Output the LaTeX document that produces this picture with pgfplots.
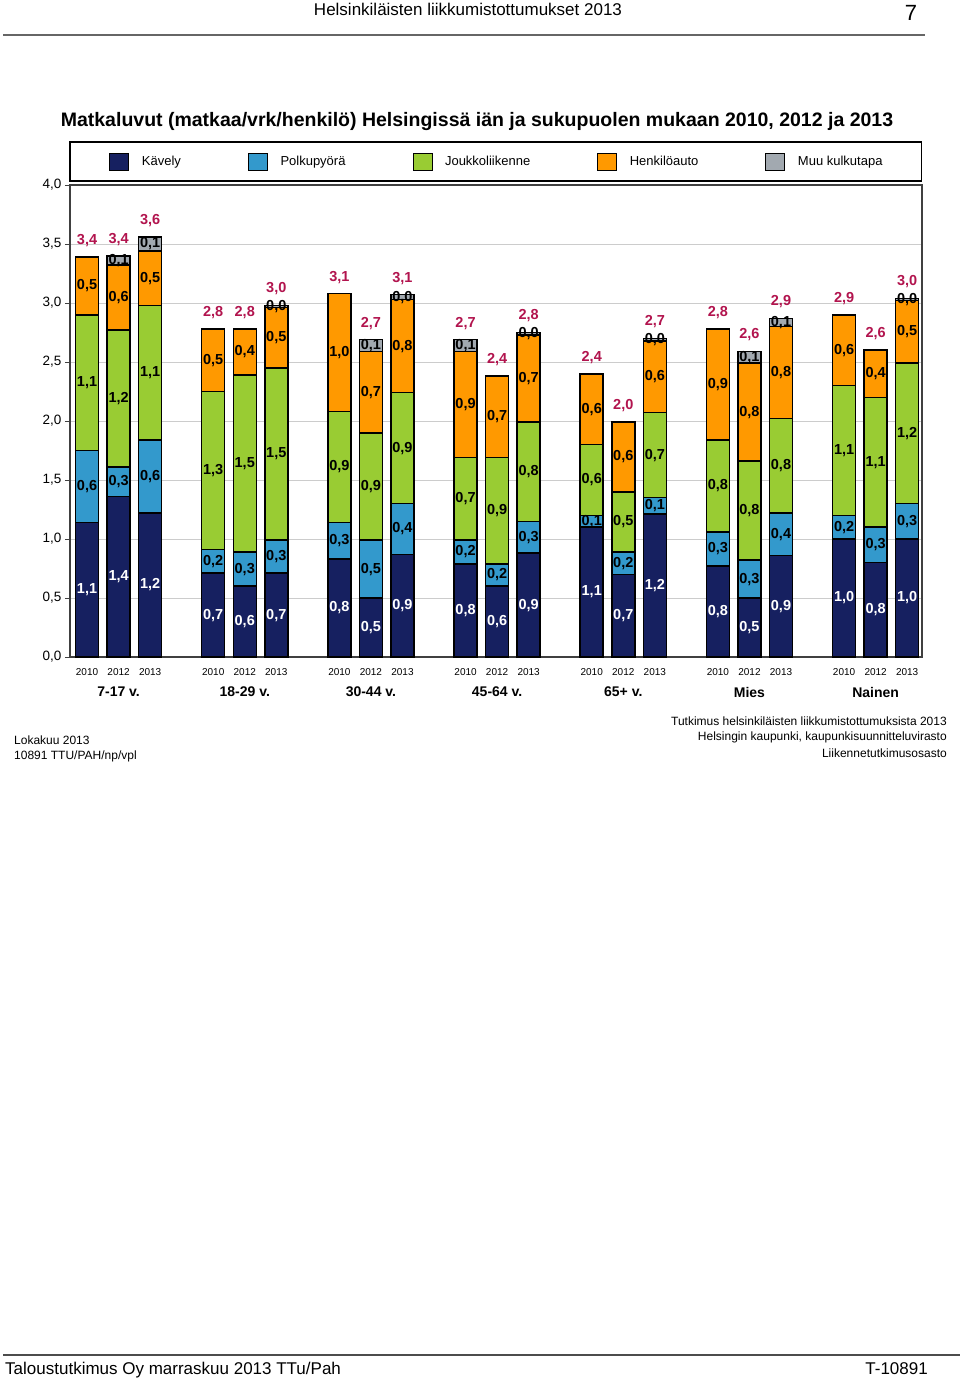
\documentclass[border=0pt]{standalone}
\usepackage{fontspec}
\setmainfont{Liberation Sans}
\usepackage{pgfplots}
\usepackage{pgfplotstable}
\pgfplotsset{compat=1.18}
\definecolor{cK}{RGB}{22,32,96}
\definecolor{cP}{RGB}{51,153,204}
\definecolor{cJ}{RGB}{153,204,51}
\definecolor{cH}{RGB}{255,153,0}
\definecolor{cM}{RGB}{162,169,176}
\definecolor{cT}{RGB}{178,20,78}
\newcommand{\fs}[1]{\fontsize{#1}{#1}\selectfont}

\pgfplotstableread{
x y l
0 1.14 1,1
1 1.36 1,4
2 1.22 1,2
4 0.71 0,7
5 0.60 0,6
6 0.71 0,7
8 0.83 0,8
9 0.50 0,5
10 0.87 0,9
12 0.79 0,8
13 0.60 0,6
14 0.88 0,9
16 1.10 1,1
17 0.70 0,7
18 1.21 1,2
20 0.77 0,8
21 0.50 0,5
22 0.86 0,9
24 1.00 1,0
25 0.80 0,8
26 1.00 1,0
}\tK
\pgfplotstableread{
x y l
0 0.61 0,6
1 0.25 0,3
2 0.62 0,6
4 0.20 0,2
5 0.29 0,3
6 0.28 0,3
8 0.31 0,3
9 0.49 0,5
10 0.43 0,4
12 0.20 0,2
13 0.19 0,2
14 0.27 0,3
16 0.10 0,1
17 0.19 0,2
18 0.14 0,1
20 0.29 0,3
21 0.32 0,3
22 0.36 0,4
24 0.20 0,2
25 0.30 0,3
26 0.30 0,3
}\tP
\pgfplotstableread{
x y l
0 1.15 1,1
1 1.16 1,2
2 1.14 1,1
4 1.34 1,3
5 1.50 1,5
6 1.46 1,5
8 0.94 0,9
9 0.91 0,9
10 0.94 0,9
12 0.70 0,7
13 0.90 0,9
14 0.84 0,8
16 0.60 0,6
17 0.51 0,5
18 0.72 0,7
20 0.78 0,8
21 0.84 0,8
22 0.80 0,8
24 1.10 1,1
25 1.10 1,1
26 1.19 1,2
}\tJ
\pgfplotstableread{
x y l
0 0.49 0,5
1 0.55 0,6
2 0.46 0,5
4 0.53 0,5
5 0.39 0,4
6 0.51 0,5
8 1.00 1,0
9 0.69 0,7
10 0.79 0,8
12 0.90 0,9
13 0.69 0,7
14 0.74 0,7
16 0.60 0,6
17 0.59 0,6
18 0.61 0,6
20 0.94 0,9
21 0.83 0,8
22 0.78 0,8
24 0.60 0,6
25 0.40 0,4
26 0.53 0,5
}\tH
\pgfplotstableread{
x y l
0 0 {}
1 0.08 0,1
2 0.12 0,1
4 0 {}
5 0 {}
6 0.02 0,0
8 0 {}
9 0.10 0,1
10 0.04 0,0
12 0.10 0,1
13 0 {}
14 0.02 0,0
16 0 {}
17 0 {}
18 0.02 0,0
20 0 {}
21 0.10 0,1
22 0.07 0,1
24 0 {}
25 0 {}
26 0.02 0,0
}\tM
\pgfplotstableread{
x y l
0 0.001 3,4
1 0.001 3,4
2 0.001 3,6
4 0.001 2,8
5 0.001 2,8
6 0.001 3,0
8 0.001 3,1
9 0.001 2,7
10 0.001 3,1
12 0.001 2,7
13 0.001 2,4
14 0.001 2,8
16 0.001 2,4
17 0.001 2,0
18 0.001 2,7
20 0.001 2,8
21 0.001 2,6
22 0.001 2,9
24 0.001 2,9
25 0.001 2,6
26 0.001 3,0
}\tT

\pgfplotsset{
  seglab/.style={
    nodes near coords,
    point meta=explicit symbolic,
    every node near coord/.style={
      anchor=center, inner sep=0pt, text=#1,
      font=\bfseries\fs{14.5}},
  },
}

\begin{document}
\begin{tikzpicture}
\fill[white] (0pt,0pt) rectangle (960pt,-1379pt);
% header
\node[anchor=base, inner sep=0pt, font=\fs{17}] at (468pt,-15.5pt) {Helsinkiläisten liikkumistottumukset 2013};
\node[anchor=base, inner sep=0pt, font=\fs{22}] at (911pt,-20pt) {7};
\draw[black!60, line width=1.3pt] (3pt,-35pt) -- (925pt,-35pt);
% title
\node[anchor=base, inner sep=0pt, font=\bfseries\fs{19.5}] at (477pt,-126pt) {Matkaluvut (matkaa/vrk/henkilö) Helsingissä iän ja sukupuolen mukaan 2010, 2012 ja 2013};
% legend frame
\draw[black, line width=1.5pt] (70pt,-142pt) rectangle (921.5pt,-181pt);

\begin{axis}[
  at={(70pt,-657pt)}, anchor=south west,
  scale only axis, width=852pt, height=472pt,
  xmin=-0.54, xmax=26.47, ymin=0, ymax=4,
  ybar stacked, bar width=23pt,
  axis line style={black!75, line width=1.3pt},
  ymajorgrids, grid style={black!20, line width=0.8pt},
  tick align=outside, major tick length=5pt,
  ytick={0,0.5,1,1.5,2,2.5,3,3.5,4},
  ytick pos=left,
  ytick style={black!75, line width=1pt},
  yticklabel style={font=\fs{13.5}, /pgf/number format/.cd, fixed, fixed zerofill, precision=1, use comma, assume math mode=true},
  xtick={0,1,2,4,5,6,8,9,10,12,13,14,16,17,18,20,21,22,24,25,26},
  xticklabels={2010,2012,2013,2010,2012,2013,2010,2012,2013,2010,2012,2013,2010,2012,2013,2010,2012,2013,2010,2012,2013},
  xtick style={draw=none},
  xticklabel style={font=\fs{10}, inner sep=0pt, yshift=-6pt},
  extra x ticks={1,5,9,13,17,21,25},
  extra x tick labels={7-17 v.,18-29 v.,30-44 v.,45-64 v.,65+ v.,Mies,Nainen},
  extra x tick style={major tick length=0pt, xtick style={draw=none}, xticklabel style={font=\bfseries\fs{14}, inner sep=0pt, yshift=-24pt}},
  legend columns=5,
  legend style={at={(0.5,1)}, anchor=center, yshift=23pt, draw=none, fill=none,
    font=\fs{13}, nodes={inner sep=0pt},
    /tikz/every odd column/.append style={column sep=12.7pt},
    /tikz/every even column/.append style={column sep=67pt}},
  legend image code/.code={\draw[#1, draw=black, line width=0.8pt] (0pt,-8.7pt) rectangle (19pt,8.7pt);},
]
\addplot[fill=cK, draw=black, line width=1.5pt, seglab=white] table[x=x,y=y,meta=l]{\tK};
\addlegendentry{Kävely}
\addplot[fill=cP, draw=black, line width=1.5pt, seglab=black] table[x=x,y=y,meta=l]{\tP};
\addlegendentry{Polkupyörä}
\addplot[fill=cJ, draw=black, line width=1.5pt, seglab=black] table[x=x,y=y,meta=l]{\tJ};
\addlegendentry{Joukkoliikenne}
\addplot[fill=cH, draw=black, line width=1.5pt, seglab=black] table[x=x,y=y,meta=l]{\tH};
\addlegendentry{Henkilöauto}
\addplot[fill=cM, draw=black, line width=1.5pt, seglab=black] table[x=x,y=y,meta=l]{\tM};
\addlegendentry{Muu kulkutapa}
\addplot[draw=none, fill=none, nodes near coords, point meta=explicit symbolic,
  every node near coord/.style={anchor=base, inner sep=0pt, text=cT, font=\bfseries\fs{14.5}, yshift=12.5pt}]
  table[x=x,y=y,meta=l]{\tT};
\end{axis}

% notes
\node[anchor=west, inner sep=0pt, font=\fs{12}] at (14pt,-740pt) {Lokakuu 2013};
\node[anchor=west, inner sep=0pt, font=\fs{12}] at (14pt,-756pt) {10891 TTU/PAH/np/vpl};
\node[anchor=east, inner sep=0pt, font=\fs{12}] at (947pt,-721pt) {Tutkimus helsinkiläisten liikkumistottumuksista 2013};
\node[anchor=east, inner sep=0pt, font=\fs{12}] at (947pt,-737pt) {Helsingin kaupunki, kaupunkisuunnitteluvirasto};
\node[anchor=east, inner sep=0pt, font=\fs{12}] at (947pt,-753pt) {Liikennetutkimusosasto};
% footer
\draw[black!70, line width=2pt] (3pt,-1355pt) -- (960pt,-1355pt);
\node[anchor=base west, inner sep=0pt, font=\fs{17}] at (5pt,-1374pt) {Taloustutkimus Oy marraskuu 2013 TTu/Pah};
\node[anchor=base east, inner sep=0pt, font=\fs{17}] at (928pt,-1374pt) {T-10891};
\end{tikzpicture}
\end{document}
